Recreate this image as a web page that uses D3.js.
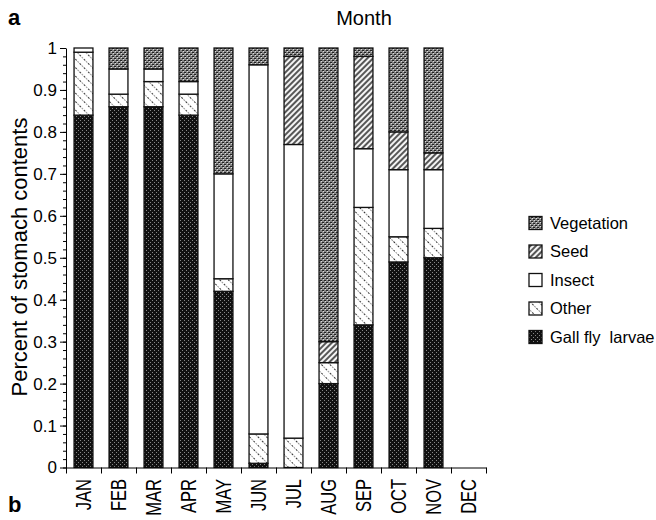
<!DOCTYPE html>
<html>
<head>
<meta charset="utf-8">
<script src="https://cdn.jsdelivr.net/npm/d3@7"></script>
<style>
  body { margin: 0; background: #fff; }
  text { font-family: "Liberation Sans", Arial, sans-serif; fill: #000; }
</style>
</head>
<body>
<div id="chart"></div>
<script>
// chart data
const months = ["JAN", "FEB", "MAR", "APR", "MAY", "JUN", "JUL", "AUG", "SEP", "OCT", "NOV", "DEC"];
const categories = ["Gall fly  larvae", "Other", "Insect", "Seed", "Vegetation"];
const gallFly    = [0.84, 0.86, 0.86, 0.84, 0.42, 0.01, 0.00, 0.20, 0.34, 0.49, 0.50, 0];
const other      = [0.15, 0.03, 0.06, 0.05, 0.03, 0.07, 0.07, 0.05, 0.28, 0.06, 0.07, 0];
const insect     = [0.01, 0.06, 0.03, 0.03, 0.25, 0.88, 0.70, 0.00, 0.14, 0.16, 0.14, 0];
const seed       = [0.00, 0.00, 0.00, 0.00, 0.00, 0.00, 0.21, 0.05, 0.22, 0.09, 0.04, 0];
const vegetation = [0.00, 0.05, 0.05, 0.08, 0.30, 0.04, 0.02, 0.70, 0.02, 0.20, 0.25, 0];
const yTicks = [0, 0.1, 0.2, 0.3, 0.4, 0.5, 0.6, 0.7, 0.8, 0.9, 1];

const keys = ["gall", "other", "insect", "seed", "veg"];
const series = [gallFly, other, insect, seed, vegetation];
const table = months.map(function(m, i) {
  let row = {month: m};
  keys.forEach(function(k, j) { row[k] = series[j][i]; });
  return row;
});

const W = 656, H = 520;
const svg = d3.select("#chart").append("svg").attr("width", W).attr("height", H);

// fill patterns (black & white print look)
const defs = svg.append("defs");
let p = defs.append("pattern").attr("id", "p-gall").attr("patternUnits", "userSpaceOnUse")
  .attr("width", 4).attr("height", 4);
p.append("rect").attr("width", 4).attr("height", 4).attr("fill", "#111");
p.append("rect").attr("x", 0).attr("y", 0).attr("width", 1).attr("height", 1).attr("fill", "#888");
p.append("rect").attr("x", 2).attr("y", 2).attr("width", 1).attr("height", 1).attr("fill", "#888");

p = defs.append("pattern").attr("id", "p-other").attr("patternUnits", "userSpaceOnUse")
  .attr("width", 6).attr("height", 6).attr("patternTransform", "rotate(45)");
p.append("rect").attr("width", 6).attr("height", 6).attr("fill", "#fff");
p.append("line").attr("x1", 0).attr("x2", 6).attr("y1", 0.5).attr("y2", 0.5)
  .attr("stroke", "#333").attr("stroke-width", 1).attr("stroke-dasharray", "1,1.5");

p = defs.append("pattern").attr("id", "p-insect").attr("patternUnits", "userSpaceOnUse")
  .attr("width", 4).attr("height", 4);
p.append("rect").attr("width", 4).attr("height", 4).attr("fill", "#fff");

p = defs.append("pattern").attr("id", "p-seed").attr("patternUnits", "userSpaceOnUse")
  .attr("width", 4).attr("height", 4).attr("patternTransform", "rotate(-45)");
p.append("rect").attr("width", 4).attr("height", 4).attr("fill", "#f4f4f4");
p.append("line").attr("x1", 0).attr("x2", 4).attr("y1", 1).attr("y2", 1)
  .attr("stroke", "#222").attr("stroke-width", 1.5);

p = defs.append("pattern").attr("id", "p-veg").attr("patternUnits", "userSpaceOnUse")
  .attr("width", 4).attr("height", 4);
p.append("rect").attr("width", 4).attr("height", 4).attr("fill", "#858585");
p.append("rect").attr("x", 0).attr("y", 0).attr("width", 2).attr("height", 1).attr("fill", "#222");
p.append("rect").attr("x", 2).attr("y", 2).attr("width", 2).attr("height", 1).attr("fill", "#222");
p.append("rect").attr("x", 1).attr("y", 1).attr("width", 1).attr("height", 1).attr("fill", "#ddd");
p.append("rect").attr("x", 3).attr("y", 3).attr("width", 1).attr("height", 1).attr("fill", "#ddd");

const fills = {gall: "url(#p-gall)", other: "url(#p-other)", insect: "url(#p-insect)",
               seed: "url(#p-seed)", veg: "url(#p-veg)"};

// scales
const plotLeft = 66, plotRight = 486, plotTop = 48, plotBottom = 467.5;
const x = d3.scaleBand().domain(months).range([plotLeft, plotRight]).paddingInner(0.46).paddingOuter(0.23);
const xEdge = d3.scaleLinear().domain([0, months.length]).range([plotLeft, plotRight]);
const y = d3.scaleLinear().domain([0, 1]).range([plotBottom, plotTop]);

// bars
const stacked = d3.stack().keys(keys)(table);
svg.append("g").selectAll("g")
  .data(stacked).enter().append("g")
    .attr("fill", function(d) { return fills[d.key]; })
  .selectAll("rect")
  .data(function(d) { return d.filter(function(s) { return s[1] - s[0] > 0; }); })
  .enter().append("rect")
    .attr("x", function(d) { return x(d.data.month); })
    .attr("width", x.bandwidth())
    .attr("y", function(d) { return y(d[1]); })
    .attr("height", function(d) { return y(d[0]) - y(d[1]); })
    .attr("stroke", "#111")
    .attr("stroke-width", 1.3);

// y axis: major + minor ticks
svg.append("g").attr("transform", "translate(" + plotLeft + ",0)")
  .call(d3.axisLeft(y).tickValues(d3.range(0, 51).map(function(i) { return i / 50; }))
    .tickSize(3).tickFormat(""))
  .call(function(g) { g.select(".domain").remove(); });
const yAxis = svg.append("g").attr("transform", "translate(" + plotLeft + ",0)")
  .call(d3.axisLeft(y).tickValues(yTicks).tickSize(6).tickSizeOuter(0).tickPadding(3)
    .tickFormat(function(d) { return String(d); }));
yAxis.selectAll("text").style("font-size", "17px").style("font-family", "Liberation Sans, Arial, sans-serif");
svg.selectAll(".tick line").attr("stroke", "#000");

// x axis: ticks at category edges
svg.append("g").attr("transform", "translate(0," + plotBottom + ")")
  .call(d3.axisBottom(xEdge).tickValues(d3.range(0, months.length + 1)).tickSize(6)
    .tickSizeOuter(0).tickFormat(""));

svg.append("g").selectAll("text")
  .data(months).enter().append("text")
    .attr("transform", function(d) {
      return "translate(" + (x(d) + x.bandwidth() / 2 + 7.5) + ",479) rotate(-90) scale(0.75,1)";
    })
    .attr("text-anchor", "end")
    .style("font-size", "22px")
    .text(function(d) { return d; });

// titles
svg.append("text").attr("x", 364).attr("y", 25).attr("text-anchor", "middle")
  .style("font-size", "20px").text("Month");
svg.append("text").attr("transform", "translate(27,257) rotate(-90)")
  .attr("text-anchor", "middle").style("font-size", "22px").text("Percent of stomach contents");
svg.append("text").attr("x", 8).attr("y", 25).style("font-size", "22px").style("font-weight", "bold").text("a");
svg.append("text").attr("x", 8).attr("y", 512).style("font-size", "22px").style("font-weight", "bold").text("b");

// legend (top to bottom: Vegetation ... Gall fly larvae)
const legendY = d3.scalePoint().domain(categories.slice().reverse()).range([223, 337]);
const legendKeys = {"Gall fly  larvae": "gall", "Other": "other", "Insect": "insect", "Seed": "seed", "Vegetation": "veg"};
const lg = svg.append("g").selectAll("g")
  .data(categories.slice().reverse()).enter().append("g")
    .attr("transform", function(d) { return "translate(529," + legendY(d) + ")"; });
lg.append("rect").attr("x", 0).attr("y", -6.5).attr("width", 13).attr("height", 13)
  .attr("fill", function(d) { return fills[legendKeys[d]]; })
  .attr("stroke", "#111").attr("stroke-width", 1.3);
lg.append("text").attr("x", 21).attr("dy", "0.35em")
  .style("font-size", "16.5px").style("white-space", "pre")
  .text(function(d) { return d; });
</script>
</body>
</html>
